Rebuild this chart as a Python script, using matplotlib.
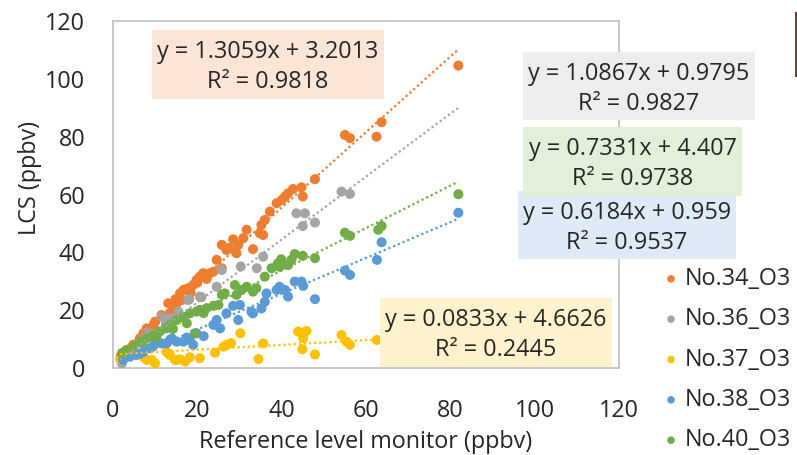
import numpy as np
import matplotlib
matplotlib.use("Agg")
import matplotlib.pyplot as plt
from matplotlib.patches import Rectangle

plt.rcParams['font.family'] = ['Open Sans', 'DejaVu Sans']

# series names and colours (Excel default palette)
names = ["No.34_O3", "No.36_O3", "No.37_O3", "No.38_O3", "No.40_O3"]
colors = ["#ED7D31", "#A5A5A5", "#FFC000", "#5B9BD5", "#70AD47"]

# reference monitor (x) vs low cost sensor (y), ppbv
x34 = [81.9, 63.7, 62.5, 55.0, 56.2, 47.9, 44.7, 42.7, 41.5, 40.8, 40.0, 38.8, 45.0, 37.2, 36.0, 35.2,
       34.8, 35.6, 31.7, 30.9, 28.5, 29.7, 33.2, 25.8, 26.9, 29.3, 24.6, 25.8, 23.8, 23.0, 21.4, 20.6,
       19.8, 19.0, 17.8, 16.7, 15.9, 16.3, 15.1, 14.3, 13.5, 13.1, 11.5, 10.0, 9.6, 8.0, 7.2, 6.4, 4.8,
       3.2, 2.4, 1.8, 22.2, 18.4, 12.2, 14.8, 20.0, 27.5]
y34 = [104.6, 85.0, 80.0, 80.6, 79.5, 65.3, 62.5, 61.9, 60.4, 59.3, 58.1, 57.0, 59.3, 54.1, 51.2, 49.5,
       46.6, 46.0, 47.8, 44.9, 44.5, 42.6, 41.1, 42.6, 40.8, 39.7, 37.4, 34.5, 33.3, 32.8, 32.8, 31.6,
       30.4, 28.7, 27.6, 27.0, 25.8, 23.5, 22.4, 20.1, 18.9, 22.4, 18.3, 16.0, 14.9, 13.7, 12.0, 10.3, 8.0,
       6.2, 5.1, 4.0, 30.8, 26.0, 17.2, 23.8, 29.5, 41.5]

x36 = [54.2, 56.2, 43.5, 45.5, 45.0, 47.9, 35.6, 30.3, 34.1, 25.8, 24.6, 20.6, 17.8, 11.5, 13.5, 7.2,
       5.6, 2.1, 21.0, 18.1, 9.0, 4.0, 3.0, 15.5, 12.5, 8.2]
y36 = [61.0, 60.2, 53.5, 53.5, 49.1, 50.3, 38.5, 35.1, 34.5, 33.9, 28.1, 24.7, 23.5, 17.8, 17.2, 10.3,
       8.5, 1.6, 24.5, 23.8, 11.0, 5.0, 4.0, 19.5, 15.0, 12.5]

x37 = [62.6, 43.9, 45.9, 45.1, 44.9, 47.9, 54.2, 55.4, 56.2, 35.6, 34.5, 26.2, 24.2, 20.6, 18.2, 17.1,
       15.9, 14.7, 13.5, 12.7, 10.0, 8.0, 7.2, 4.8, 3.2, 1.7, 2.4, 9.2, 13.1, 15.1, 27.0, 28.0, 30.2]
y37 = [9.7, 12.6, 12.8, 10.3, 6.5, 4.7, 11.4, 9.1, 8.0, 8.5, 3.1, 7.4, 5.3, 3.4, 3.7, 2.2,
       3.0, 2.8, 4.5, 5.6, 1.6, 2.8, 3.9, 4.5, 3.9, 3.0, 3.4, 2.8, 5.1, 2.8, 8.0, 8.6, 12.0]

x38 = [81.9, 63.7, 62.6, 55.0, 56.2, 47.9, 44.7, 45.1, 43.1, 40.8, 41.5, 39.5, 38.8, 36.4, 36.0, 35.2,
       33.2, 32.8, 30.1, 29.7, 28.5, 26.9, 24.6, 25.4, 23.8, 19.8, 19.0, 18.2, 16.7, 15.1, 13.5, 12.7,
       11.5, 10.0, 8.8, 7.2, 5.6, 4.0, 2.4, 21.5, 17.5, 14.0, 9.5, 6.5]
y38 = [53.7, 43.5, 37.4, 33.7, 32.2, 23.8, 29.9, 28.4, 29.9, 27.0, 24.7, 28.1, 27.0, 25.8, 22.9, 20.6,
       18.9, 19.5, 21.8, 16.6, 21.5, 18.9, 16.6, 13.7, 14.9, 12.0, 8.0, 9.7, 9.1, 9.1, 9.7, 8.5,
       8.5, 8.5, 6.8, 5.6, 4.5, 3.9, 2.8, 11.0, 10.5, 10.2, 7.5, 5.0]

x40 = [81.9, 62.9, 63.7, 55.0, 56.2, 47.9, 45.0, 43.1, 42.3, 41.5, 39.5, 39.9, 39.1, 37.6, 36.0, 34.0,
       33.2, 31.7, 30.5, 28.9, 26.5, 25.8, 29.3, 25.0, 23.8, 22.2, 20.6, 19.8, 18.2, 16.7, 15.1, 13.5,
       12.6, 11.1, 9.6, 8.0, 6.4, 4.8, 3.2, 2.1, 19.4, 21.5, 17.5, 14.2, 10.3, 7.0]
y40 = [60.1, 47.8, 49.1, 46.8, 45.7, 38.0, 38.8, 39.4, 37.4, 35.6, 35.0, 37.6, 36.2, 34.5, 31.6, 27.6,
       26.4, 28.1, 27.0, 28.7, 25.8, 25.3, 25.3, 21.8, 21.5, 20.7, 20.1, 19.5, 18.9, 17.7, 16.6, 14.9,
       13.7, 12.6, 11.4, 10.3, 9.1, 7.4, 6.2, 5.1, 12.0, 19.0, 15.5, 13.5, 10.5, 8.8]

# trendline equations as printed on the chart
slopes = [1.3059, 1.0867, 0.0833, 0.6184, 0.7331]
intercepts = [3.2013, 0.9795, 4.6626, 0.959, 4.407]
r2 = [0.9818, 0.9827, 0.2445, 0.9537, 0.9738]
box_colors = ["#FBE5D6", "#EDEDED", "#FFF2CC", "#DEEBF7", "#E2F0D9"]
# label boxes: left, top, right, bottom in pixels from the top left corner
boxes = [(152, 30, 384, 99), (523, 52, 755, 120), (380, 298, 612, 367),
         (518, 191, 736, 259), (523, 127, 742, 196)]

xs = [x34, x36, x37, x38, x40]
ys = [y34, y36, y37, y38, y40]

W, H = 797, 455
fig = plt.figure(figsize=(W / 100, H / 100), dpi=100)
ax = fig.add_axes([113 / W, 1 - 368 / H, (619 - 113) / W, (368 - 21) / H])

txtc = "#262626"
fs = 16.8
for x, y, c, n in zip(xs, ys, colors, names):
    ax.scatter(x, y, s=52, color=c, edgecolors="none", label=n, zorder=3)

allx = np.concatenate([np.array(x) for x in xs])
tx = np.array([allx.min(), allx.max()])
for m, b, c in zip(slopes, intercepts, colors):
    ax.plot(tx, m * tx + b, color=c, lw=1.6, ls=(0, (1, 1.3)), zorder=4)

ax.set_xlim(0, 120)
ax.set_ylim(0, 120)
ax.set_xticks(range(0, 121, 20))
ax.set_yticks(range(0, 121, 20))
ax.tick_params(length=0, labelsize=fs, labelcolor=txtc)
ax.tick_params(axis="x", pad=22)
ax.tick_params(axis="y", pad=20)
for s in ax.spines.values():
    s.set_color("#BFBFBF")
    s.set_linewidth(1.2)

fig.text(30 / W, 1 - 178 / H, "LCS (ppbv)", rotation=90, ha="center", va="center",
         fontsize=fs, color=txtc)
fig.text(366 / W, 1 - 442 / H, "Reference level monitor (ppbv)", ha="center", va="center",
         fontsize=fs, color=txtc)

# equation boxes
for (l, t, r, btm), fc, m, b, q in zip(boxes, box_colors, slopes, intercepts, r2):
    fig.patches.append(Rectangle((l / W, 1 - btm / H), (r - l) / W, (btm - t) / H,
                                 transform=fig.transFigure, facecolor=fc, edgecolor="none",
                                 zorder=5))
    cx = (l + r) / 2 / W
    h = btm - t
    fig.text(cx, 1 - (t + h * 0.32) / H, "y = %gx + %g" % (m, b), ha="center", va="center",
             fontsize=fs, color=txtc, zorder=6)
    fig.text(cx, 1 - (t + h * 0.76) / H, "R² = %g" % q, ha="center", va="center",
             fontsize=fs, color=txtc, zorder=6)

leg = fig.legend(loc="upper left", bbox_to_anchor=(657 / W, 1 - 267 / H), frameon=False,
                 fontsize=fs, handletextpad=0.0, labelspacing=0.70, markerscale=0.75,
                 borderaxespad=0, borderpad=0, handlelength=1.2)
for t in leg.get_texts():
    t.set_color(txtc)

# sliver of a neighbouring picture at the right edge
fig.patches.append(Rectangle((795 / W, 1 - 77 / H), 2 / W, 65 / H, transform=fig.transFigure,
                             facecolor="#5C4B3E", edgecolor="none"))

fig.savefig("out.png", dpi=100)
